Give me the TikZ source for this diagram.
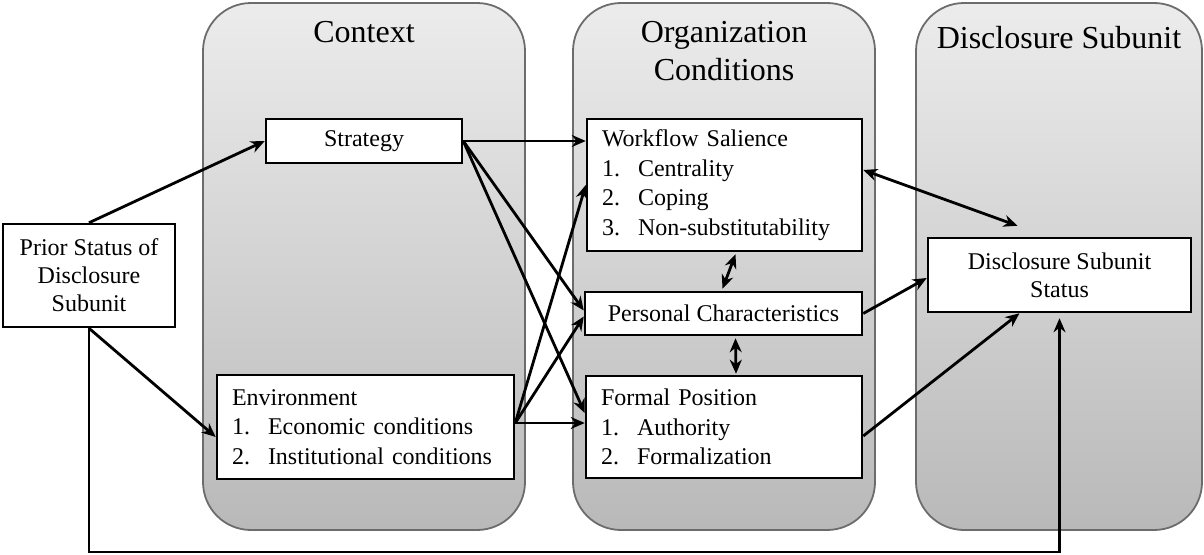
\documentclass[tikz,border=0pt]{standalone}
\usepackage{fontspec}
\setmainfont{Liberation Serif}
\usetikzlibrary{arrows.meta,calc}
\newcommand{\litem}[2]{\makebox[36pt][l]{#1}#2}
\begin{document}
\begin{tikzpicture}[x=1pt,y=-1pt,
  panel/.style={draw=gray!85!black,line width=1.8pt,rounded corners=48pt,top color=gray!15,bottom color=gray!55},
  ptitle/.style={font=\fontsize{32}{38}\selectfont,align=center},
  box/.style={draw=black,line width=2.5pt,fill=white,font=\fontsize{24}{29.5}\selectfont,inner sep=0pt},
  listbox/.style={box,align=left,inner xsep=15pt},
  tip/.tip={Stealth[length=14pt,width=12pt,inset=4.5pt]},
  arr/.style={line width=2.8pt,-tip},
  darr/.style={line width=2.8pt,tip-tip}]
\useasboundingbox (0,0) rectangle (1204,554);
% panels
\draw[panel] (203,3) rectangle (525,530);
\draw[panel] (573,3) rectangle (875,530);
\draw[panel] (916,3) rectangle (1202,530);
\node[ptitle] (tctx) at (364,32) {Context};
\node[ptitle] (torg) at (724,51) {Organization\\Conditions};
\node[ptitle] (tds) at (1059,38) {Disclosure Subunit};
% boxes
\node[box,align=center,minimum width=172pt,minimum height=103pt,font=\fontsize{24}{28}\selectfont] (prior) at (89,275.5) {Prior Status of\\Disclosure\\Subunit};
\node[box,minimum width=196pt,minimum height=44pt] (strat) at (364,141) {Strategy};
\node[listbox,minimum width=297pt,minimum height=104pt,text width=267pt] (env) at (365.5,427) {Environment\\\litem{1.}{Economic conditions}\\\litem{2.}{Institutional conditions}};
\node[listbox,minimum width=275pt,minimum height=132pt,text width=245pt] (ws) at (724.5,185) {Workflow Salience\\\litem{1.}{Centrality}\\\litem{2.}{Coping}\\\litem{3.}{Non-substitutability}};
\node[box,minimum width=277pt,minimum height=43pt] (pc) at (723.5,313.5) {Personal Characteristics};
\node[listbox,minimum width=276pt,minimum height=102pt,text width=246pt] (fp) at (724,427) {Formal Position\\\litem{1.}{Authority}\\\litem{2.}{Formalization}};
\node[box,align=center,minimum width=263pt,minimum height=74pt,font=\fontsize{24}{28}\selectfont] (ds) at (1059.5,275) {Disclosure Subunit\\Status};
% connectors
\coordinate (fb) at (89,552);
\draw[arr] (prior.north) -- (strat.west);
\draw[arr] (prior.south) -- ([yshift=-10pt]env.west);
\draw[arr] (prior.south) -- (fb) -| ([yshift=-5pt]ds.south);
\draw[arr] (strat.east) -- (strat.east -| ws.west);
\draw[arr] (strat.east) -- ([yshift=3pt]pc.west);
\draw[arr] (strat.east) -- ([yshift=14pt]fp.west);
\coordinate (es) at ([yshift=4pt]env.east);
\draw[arr] (es) -- (ws.west);
\draw[arr] (es) -- ([yshift=-3pt]pc.west);
\draw[arr] (es) -- (es -| fp.west);
\draw[darr] ([xshift=11pt,yshift=-2pt]ws.south) -- ([xshift=-1pt,yshift=2pt]pc.north);
\draw[darr] ([xshift=12pt,yshift=-2pt]pc.south) -- ([xshift=12pt,yshift=1pt]fp.north);
\draw[darr] ([yshift=15pt]ws.east) -- ([xshift=-42pt,yshift=11pt]ds.north);
\draw[arr] (pc.east) -- ([yshift=-3pt]ds.west);
\draw[arr] ([yshift=-9pt]fp.east) -- ([xshift=-40pt]ds.south);
\end{tikzpicture}
\end{document}
